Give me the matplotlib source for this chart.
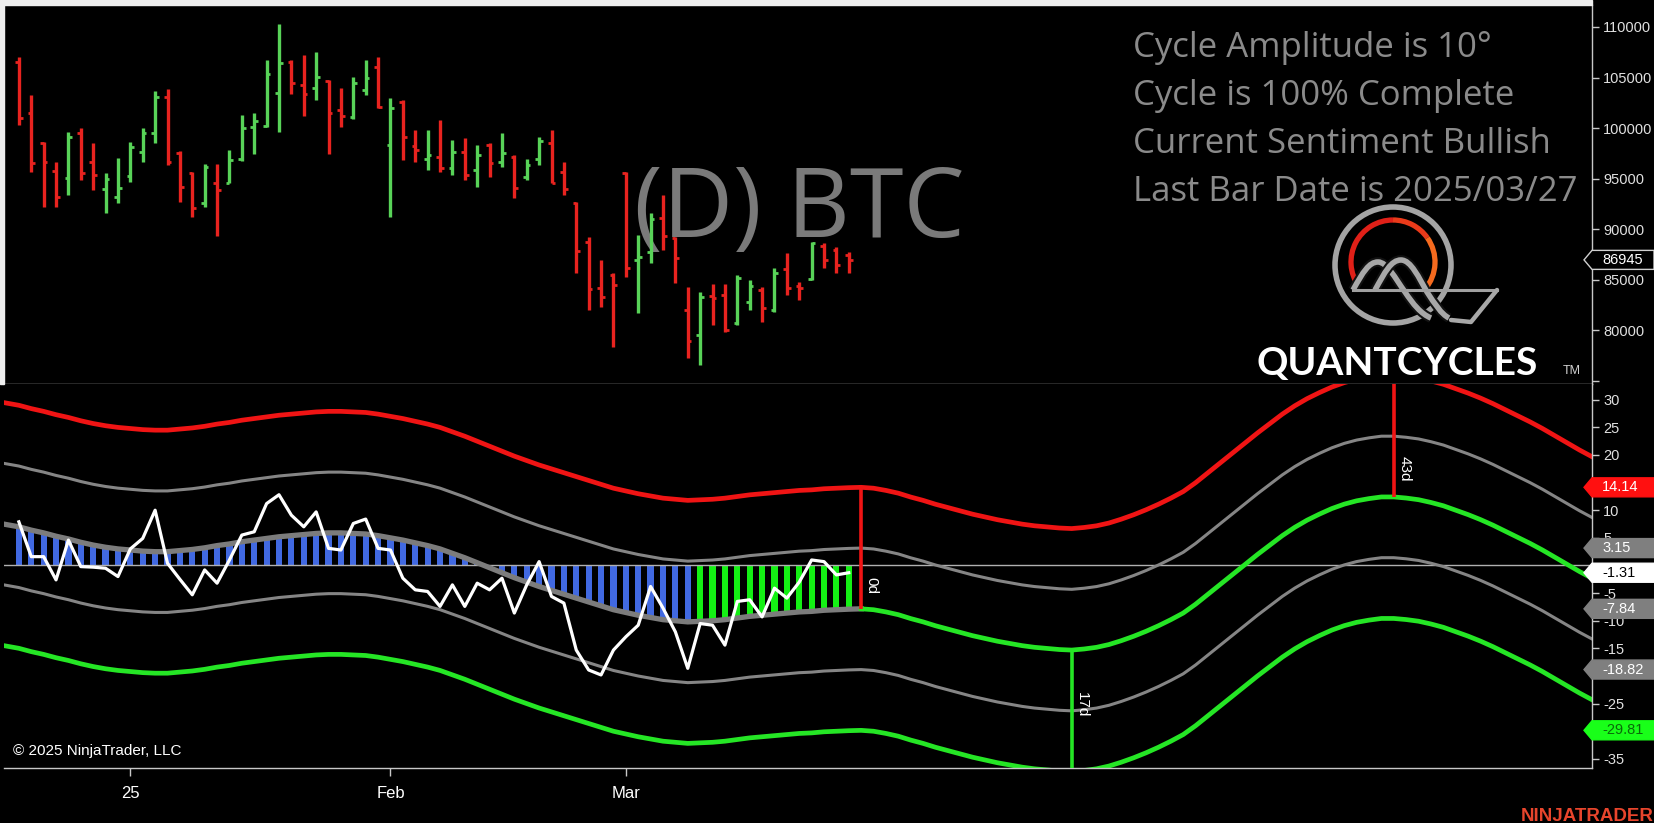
import matplotlib
matplotlib.use("Agg")
import matplotlib.pyplot as plt
import numpy as np
from matplotlib.patches import Polygon, Rectangle, Circle, Arc, PathPatch
from matplotlib.path import Path

plt.rcParams['axes.unicode_minus'] = False
plt.rcParams['font.family'] = ['Liberation Sans', 'DejaVu Sans']

# daily bars, Dec 18 2024 .. Mar 27 2025 (one entry per session)
OPEN = [106568, 101453, 98483, 95744, 95018, 99473, 96668, 93929, 93203, 95282,
        97658, 99473, 103103, 97559, 95513, 92609, 94523, 94589, 96899, 100133,
        100199, 103433, 106568, 104258, 103928, 104654, 101783, 101123, 103763, 106073,
        98318, 102608, 98219, 96899, 97163, 96008, 97658, 95843, 98318, 96668,
        97163, 95117, 96899, 98483, 95678, 92609, 88748, 84128, 85448, 95579,
        86933, 87758, 91058, 89078, 81983, 79508, 83369, 83468, 80663, 82808,
        83963, 81983, 86009, 84359, 85019, 88319, 87923, 87400]
HIGH = [107063, 103268, 98600, 96602, 99638, 100034, 98483, 95513, 96998, 98648,
        99968, 103697, 103829, 97700, 95678, 96404, 96437, 97823, 101288, 101453,
        106733, 110264, 106733, 107228, 107558, 104753, 103928, 105017, 106733, 107063,
        102938, 102773, 99803, 99803, 100793, 98813, 98978, 98318, 98483, 99473,
        97328, 96899, 99077, 99803, 96668, 92708, 89243, 86933, 85613, 95678,
        89408, 91553, 93368, 89243, 84293, 83798, 84557, 84557, 85448, 84953,
        84293, 86108, 87593, 84788, 88748, 88583, 88253, 87758]
LOW = [100298, 95678, 92213, 92213, 93368, 94853, 93863, 91553, 92543, 94688,
       96602, 98549, 96338, 92708, 91223, 92213, 89309, 94523, 96767, 97427,
       100133, 99638, 103367, 101189, 102773, 97427, 100133, 100892, 103268, 101948,
       91223, 96833, 96668, 95843, 95678, 95348, 94853, 94193, 95183, 96173,
       93038, 94853, 96338, 94523, 93368, 85613, 81983, 82313, 78353, 85283,
       81653, 86603, 87923, 84623, 77198, 76538, 80498, 79838, 80498, 81983,
       80828, 81818, 83468, 82973, 84953, 86108, 85613, 85613]
CLOSE = [100958, 96503, 96602, 93203, 99143, 95513, 95348, 94919, 94028, 98153,
         99473, 103103, 96668, 94193, 92048, 96173, 93863, 96833, 99968, 100727,
         105347, 106403, 104423, 103334, 105083, 101453, 101189, 104423, 104918, 102047,
         101948, 99143, 97823, 97328, 96008, 97658, 95348, 97328, 96503, 97559,
         94028, 96338, 98747, 94589, 93929, 87857, 84029, 83303, 84458, 86108,
         87263, 90959, 89309, 87098, 78947, 83303, 83138, 80003, 85118, 84359,
         82148, 85613, 84128, 84128, 88583, 86933, 86438, 86945]

DATE_TICKS = [9, 30, 49]
DATE_LABELS = ['25', 'Feb', 'Mar']
PRICE_TICKS = [75000, 80000, 85000, 90000, 95000, 100000, 105000, 110000]

# cycle oscillator (white line), one value per bar
OSC = [7.9, 1.6, 1.6, -2.6, 4.6, -0.2, -0.3, -0.5, -2.0, 3.0,
       4.9, 10.0, 0.4, -2.5, -5.3, -0.8, -3.2, 1.0, 5.5, 6.1,
       11.2, 12.8, 9.1, 7.0, 9.7, 3.1, 2.8, 7.6, 8.4, 3.1,
       2.8, -2.3, -4.4, -4.7, -7.4, -3.5, -7.4, -3.2, -4.4, -2.3,
       -8.6, -3.5, 0.7, -5.6, -6.8, -15.3, -18.9, -19.8, -15.3, -12.9,
       -10.8, -3.8, -7.7, -12.0, -18.6, -10.5, -10.8, -14.4, -6.5, -6.2,
       -9.3, -4.1, -5.9, -3.0, 1.0, 0.7, -1.7, -1.31]

# cycle centre line, bar index -2 .. 128 (projection past the last bar)
CENTER_START = -2
CENTER = [7.8, 7.4, 7.0, 6.4, 5.9, 5.3, 4.8, 4.2, 3.7, 3.3,
          3.0, 2.8, 2.6, 2.5, 2.5, 2.7, 2.9, 3.2, 3.6, 3.9,
          4.3, 4.6, 4.9, 5.2, 5.4, 5.6, 5.8, 5.9, 5.9, 5.8,
          5.7, 5.4, 5.0, 4.6, 4.1, 3.6, 3.0, 2.2, 1.4, 0.5,
          -0.4, -1.3, -2.2, -3.0, -3.8, -4.5, -5.2, -5.9, -6.6, -7.3,
          -8.0, -8.5, -9.0, -9.4, -9.8, -10.0, -10.2, -10.1, -10.0, -9.8,
          -9.5, -9.2, -9.0, -8.8, -8.6, -8.4, -8.3, -8.1, -8.0, -7.9,
          -7.84, -8.0, -8.4, -8.9, -9.6, -10.2, -10.9, -11.5, -12.1, -12.7,
          -13.2, -13.7, -14.1, -14.5, -14.8, -15.0, -15.2, -15.3, -15.1, -14.8,
          -14.3, -13.6, -12.8, -11.9, -10.9, -9.8, -8.6, -7.0, -5.2, -3.4,
          -1.6, 0.2, 2.0, 3.7, 5.4, 6.9, 8.2, 9.3, 10.3, 11.1,
          11.7, 12.1, 12.4, 12.4, 12.2, 11.9, 11.4, 10.8, 10.0, 9.2,
          8.3, 7.3, 6.2, 5.1, 4.0, 2.8, 1.5, 0.2, -1.1, -2.3, -3.5]
BAND_STEP = 10.99
CYCLE_POINT = 68          # "0d"
TROUGH_DAYS = 17          # "17d"
PEAK_DAYS = 43            # "43d"
HIST_GREEN_FROM = 55

OSC_TICKS = list(range(-35, 31, 5))
OSC_HIDDEN = [15, 0, -20, -30]   # labels that sit under the value tags

TAG_VALUES = [14.14, 3.15, -1.31, -7.84, -18.82, -29.81]
TAG_FACE = ['#ff1010', '#7f7f7f', '#ffffff', '#7f7f7f', '#7f7f7f', '#19ff19']
TAG_TEXT = ['white', 'white', 'black', 'white', 'white', '#0a6a0a']

INFO_LINES = ['Cycle Amplitude is 10°', 'Cycle is 100% Complete',
              'Current Sentiment Bullish', 'Last Bar Date is 2025/03/27']

UP = '#58d358'
DOWN = '#e8231f'
RED = '#f01414'
GREEN = '#25e625'
GREY = '#858585'
AXC = '#c8c8c8'
NARROW = ['Liberation Sans Narrow', 'Liberation Sans']

FIG_W, FIG_H = 1654, 823
fig = plt.figure(figsize=(FIG_W / 100, FIG_H / 100), dpi=100, facecolor='black')

left, right = 4 / FIG_W, 1592 / FIG_W
top_px, sep_px, bot_px = 5, 384, 768
ax1 = fig.add_axes([left, 1 - sep_px / FIG_H, right - left, (sep_px - top_px) / FIG_H])
ax2 = fig.add_axes([left, 1 - bot_px / FIG_H, right - left, (bot_px - sep_px) / FIG_H])

for ax in (ax1, ax2):
    ax.set_facecolor('black')
    ax.set_xlim(-1.2, 127)
    for s in ('top', 'left'):
        ax.spines[s].set_visible(False)
    for s in ('right', 'bottom'):
        ax.spines[s].set_color(AXC)
        ax.spines[s].set_linewidth(1)
    ax.yaxis.tick_right()
    ax.tick_params(axis='y', colors=AXC, labelcolor='#e0e0e0', length=5, width=1,
                   pad=3, labelsize=10.5)

# ---- price panel
x = np.arange(len(CLOSE))
colors = [UP if c >= o else DOWN for o, c in zip(OPEN, CLOSE)]
ax1.vlines(x, LOW, HIGH, colors=colors, lw=2.4, zorder=3)
ax1.hlines(OPEN, x - 0.3, x, colors=colors, lw=2, zorder=3)
ax1.hlines(CLOSE, x, x + 0.3, colors=colors, lw=2, zorder=3)
ax1.set_ylim(74657, 112178)
ax1.set_yticks(PRICE_TICKS, [''] + [str(t) for t in PRICE_TICKS[1:]])
ax1.set_xticks([])
ax1.text(799 / FIG_W, 1 - 237 / FIG_H, '(D) BTC', transform=fig.transFigure,
         ha='center', va='baseline', fontsize=70, family='Open Sans',
         color='#7a7a7a', zorder=0.5)
for k, line in enumerate(INFO_LINES):
    ax1.text(1133 / FIG_W, 1 - (57 + 48 * k) / FIG_H, line, transform=fig.transFigure,
             ha='left', va='baseline', fontsize=25, family='Open Sans',
             color='#8a8a8a', zorder=0.5)

# ---- cycle panel
cx = np.arange(CENTER_START, CENTER_START + len(CENTER))
center = np.array(CENTER)
hist = center[x - CENTER_START]
hcol = ['#4169e1' if i < HIST_GREEN_FROM else '#14f014' for i in x]
ax2.bar(x, hist, width=0.5, color=hcol, zorder=1)
ax2.axhline(0, color='#b0b0b0', lw=1, zorder=1.5)
ax2.plot(cx, center + 2 * BAND_STEP, color=RED, lw=3.4, zorder=2)
ax2.plot(cx, center + BAND_STEP, color=GREY, lw=2.2, zorder=2)
ax2.plot(cx, center - BAND_STEP, color=GREY, lw=2.2, zorder=2)
ax2.plot(cx, center - 2 * BAND_STEP, color=GREEN, lw=3.4, zorder=2)
past = cx <= CYCLE_POINT
future = ~past | (cx == CYCLE_POINT)
ax2.plot(cx[past], center[past], color='#7c7c7c', lw=3.8, zorder=3)
ax2.plot(cx[future], center[future], color=GREEN, lw=3.4, zorder=3)
ax2.plot(x, OSC, color='white', lw=2.3, zorder=4)

ylo, yhi = -36.63, 32.83
ax2.set_ylim(ylo, yhi)
ax2.set_yticks(OSC_TICKS, ['' if t in OSC_HIDDEN else str(t) for t in OSC_TICKS])


def c_at(i):
    return center[i - CENTER_START]


p0 = CYCLE_POINT
p1 = CYCLE_POINT + TROUGH_DAYS
p2 = CYCLE_POINT + PEAK_DAYS
ax2.vlines(p0, c_at(p0), c_at(p0) + 2 * BAND_STEP, color=RED, lw=2.6, zorder=5)
ax2.vlines(p1, ylo, c_at(p1), color=GREEN, lw=2.6, zorder=5)
ax2.vlines(p2, c_at(p2), yhi, color=RED, lw=2.6, zorder=5)
for px, py, lab in [(p0, -3.7, '0d'), (p1, -25.2, '17d'), (p2, 17.5, '43d')]:
    ax2.text(px + 0.85, py, lab, rotation=270, color='white', fontsize=11,
             ha='center', va='center', zorder=6)

ax2.set_xticks(DATE_TICKS, DATE_LABELS)
ax2.tick_params(axis='x', colors=AXC, labelcolor='white', length=6, width=1, pad=7)
for t in ax2.get_xticklabels():
    t.set_family(NARROW)
    t.set_fontsize(12)

ax2.text(13 / FIG_W, 1 - 755 / FIG_H, '© 2025 NinjaTrader, LLC', transform=fig.transFigure,
         color='white', fontsize=11, family=NARROW, va='baseline', zorder=6)


# ---- value tags on the right axis
def value_tag(ax, value, text, face, fg, edge):
    y = ax.transData.transform((0, value))[1] / FIG_H
    tip = right - 8 / FIG_W
    h = 9.5 / FIG_H
    verts = [(tip, y), (right, y + h), (1.0, y + h), (1.0, y - h), (right, y - h)]
    fig.add_artist(Polygon(verts, closed=True, transform=fig.transFigure,
                           facecolor=face, edgecolor=edge, lw=1, zorder=5))
    fig.text(right + 10 / FIG_W, y, text, color=fg, fontsize=10.5,
             ha='left', va='center', zorder=6)


value_tag(ax1, CLOSE[-1], str(CLOSE[-1]), 'black', 'white', '#d0d0d0')
for v, fc, tc in zip(TAG_VALUES, TAG_FACE, TAG_TEXT):
    value_tag(ax2, v, f'{v:.2f}', fc, tc, fc)

# light frame at top/left edge of the screenshot
fig.add_artist(Rectangle((0, 1 - top_px / FIG_H), right, top_px / FIG_H,
                         transform=fig.transFigure, color='#eeeeee', zorder=7))
fig.add_artist(Rectangle((0, 1 - sep_px / FIG_H), 4 / FIG_W, sep_px / FIG_H,
                         transform=fig.transFigure, color='#eeeeee', zorder=7))

# ---- QuantCycles logo
lg = fig.add_axes([1325 / FIG_W, 1 - 330 / FIG_H, 190 / FIG_W, 135 / FIG_H])
lg.set_xlim(0, 190)
lg.set_ylim(0, 135)
lg.axis('off')
lg.patch.set_alpha(0)
lg.add_patch(Circle((68, 65), 58, fill=False, ec='#a4a4a4', lw=4))
lg.add_patch(Arc((68, 68), 84, 84, theta1=90, theta2=215, ec='#e02018', lw=3.8))
lg.add_patch(Arc((68, 68), 84, 84, theta1=35, theta2=90, ec='#ea3a1a', lw=3.8))
lg.add_patch(Arc((68, 68), 84, 84, theta1=-40, theta2=35, ec='#f56a1e', lw=3.8))
wave1 = Path([(28, 40), (38, 58), (44, 68), (53, 68), (62, 68), (70, 52), (80, 38),
              (88, 26), (96, 16), (106, 12)],
             [Path.MOVETO] + [Path.CURVE4] * 9)
wave2 = Path([(50, 40), (60, 58), (66, 70), (76, 70), (86, 70), (94, 52), (102, 38),
              (110, 26), (116, 16), (124, 12)],
             [Path.MOVETO] + [Path.CURVE4] * 9)
for w in (wave1, wave2):
    lg.add_patch(PathPatch(w, fill=False, ec='#111111', lw=7))
    lg.add_patch(PathPatch(w, fill=False, ec='#a8a8a8', lw=4))
lg.plot([28, 172], [40, 40], color='#a0a0a0', lw=2.2)
lg.plot([172, 146, 126], [40, 8, 10], color='#a8a8a8', lw=3.2, solid_capstyle='round')

fig.text(1257 / FIG_W, 1 - 375 / FIG_H, 'QUANTCYCLES', color='white', fontsize=28,
         family='Lato', weight='bold', va='baseline')
fig.text(1563 / FIG_W, 1 - 374 / FIG_H, 'TM', color='#cfcfcf', fontsize=9, va='baseline')
fig.text(1.0, 1 - 821 / FIG_H, 'NINJATRADER', color='#e8452c', fontsize=13.5,
         weight='bold', ha='right', va='baseline')

fig.savefig('out.png', dpi=100, facecolor='black')
